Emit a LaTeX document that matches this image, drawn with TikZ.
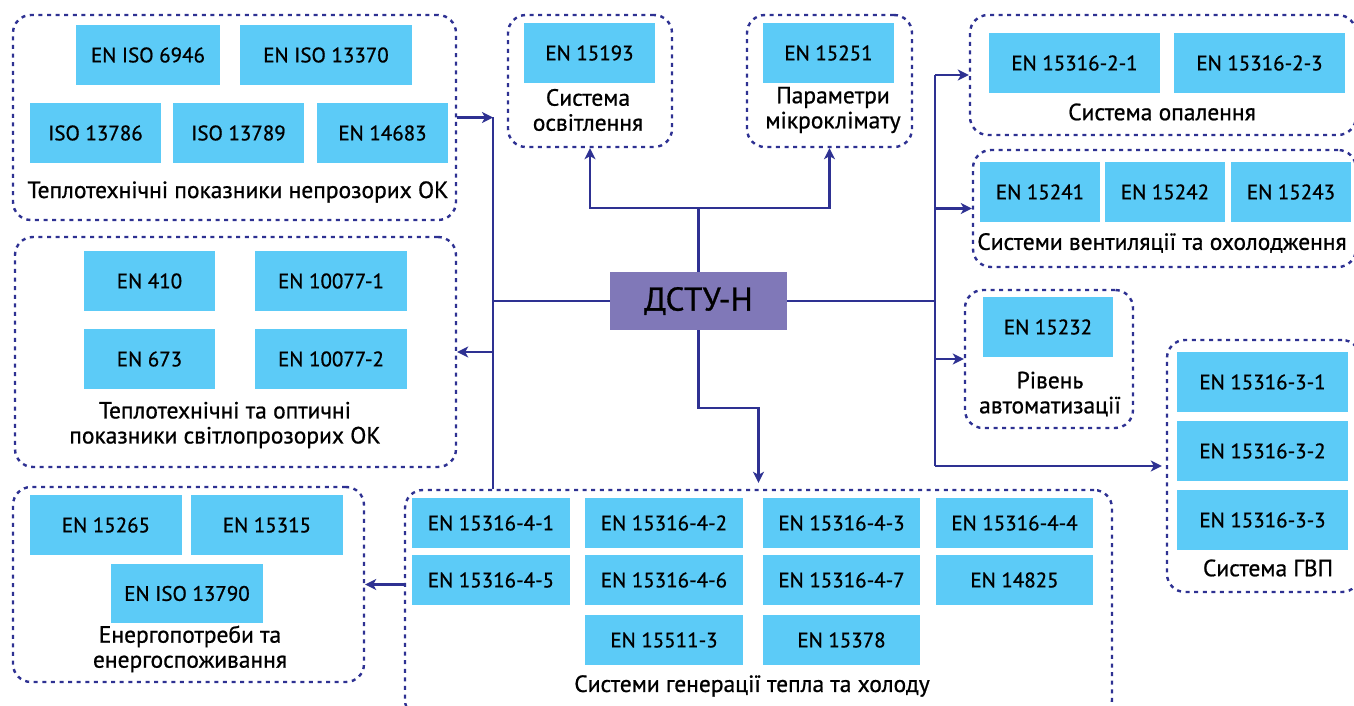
\documentclass[tikz,border=0pt]{standalone}
\usepackage{fontspec}
\setmainfont[FakeBold=0.8]{PT Sans}
\usetikzlibrary{arrows.meta}
\definecolor{cyanbox}{HTML}{5CCBF7}
\definecolor{dstucol}{HTML}{8078B8}
\definecolor{navy}{HTML}{2E3192}
\tikzset{
 stdbox/.style={fill=cyanbox, inner sep=0pt, font=\fontsize{21}{25}\selectfont, text=black},
 grpbox/.style={draw=navy, line width=2.4pt, dash pattern=on 4pt off 4.6pt, rounded corners=18pt, inner sep=0pt},
 lbl/.style={font=\fontsize{23.5}{25}\selectfont, align=center, inner sep=0pt, text=black},
 conn/.style={draw=navy, line width=2.4pt},
 arr/.style={conn, -{Stealth[length=11pt,width=11pt,inset=3pt]}},
}
\newcommand{\stdb}[6]{\node[stdbox, minimum width={#4-#2}, minimum height={#5-#3}] (#1) at ({(#2+#4)/2},{(#3+#5)/2}) {#6};}
\newcommand{\grpb}[5]{\node[grpbox, minimum width={#4-#2}, minimum height={#5-#3}] (#1) at ({(#2+#4)/2},{(#3+#5)/2}) {};}
\begin{document}
\begin{tikzpicture}[x=1pt,y=-1pt]
\useasboundingbox (0,0) rectangle (1354,706);
\fill[white] (0,0) rectangle (1354,706);
% group boxes
\grpb{g1}{13}{15}{456}{220}
\grpb{g2}{15}{237}{456}{467}
\grpb{g3}{13}{487}{364}{682}
\grpb{light}{508}{15}{672}{147}
\grpb{param}{747}{15}{912}{147}
\grpb{heat}{970}{15}{1356}{135}
\grpb{vent}{973}{150}{1356}{267}
\grpb{auto}{965}{290}{1133}{428}
\grpb{dhw}{1167}{340}{1360}{592}
\grpb{gen}{405}{490}{1112}{718}
% standard boxes
\stdb{a1}{76}{25}{220}{85}{EN ISO 6946}
\stdb{a2}{240}{25}{412}{85}{EN ISO 13370}
\stdb{a3}{30}{103}{161}{163}{ISO 13786}
\stdb{a4}{173}{103}{304}{163}{ISO 13789}
\stdb{a5}{317}{103}{448}{163}{EN 14683}
\stdb{b1}{84}{251}{215}{311}{EN 410}
\stdb{b2}{255}{251}{407}{311}{EN 10077-1}
\stdb{b3}{84}{329}{215}{389}{EN 673}
\stdb{b4}{255}{329}{407}{389}{EN 10077-2}
\stdb{c1}{30}{495}{182}{555}{EN 15265}
\stdb{c2}{191}{495}{343}{555}{EN 15315}
\stdb{c3}{111}{564}{263}{623}{EN ISO 13790}
\stdb{d1}{524}{23}{655}{83}{EN 15193}
\stdb{e1}{763}{23}{894}{83}{EN 15251}
\stdb{f1}{989}{33}{1160}{93}{EN 15316-2-1}
\stdb{f2}{1174}{33}{1345}{93}{EN 15316-2-3}
\stdb{h1}{980}{162}{1100}{222}{EN 15241}
\stdb{h2}{1105}{162}{1225}{222}{EN 15242}
\stdb{h3}{1231}{162}{1351}{222}{EN 15243}
\stdb{i1}{983}{297}{1113}{357}{EN 15232}
\stdb{j1}{1177}{352}{1348}{412}{EN 15316-3-1}
\stdb{j2}{1177}{421}{1348}{481}{EN 15316-3-2}
\stdb{j3}{1177}{490}{1348}{550}{EN 15316-3-3}
\stdb{k1}{412}{498}{570}{548}{EN 15316-4-1}
\stdb{k2}{585}{498}{743}{548}{EN 15316-4-2}
\stdb{k3}{763}{498}{920}{548}{EN 15316-4-3}
\stdb{k4}{936}{498}{1093}{548}{EN 15316-4-4}
\stdb{k5}{412}{555}{570}{605}{EN 15316-4-5}
\stdb{k6}{585}{555}{743}{605}{EN 15316-4-6}
\stdb{k7}{763}{555}{920}{605}{EN 15316-4-7}
\stdb{k8}{936}{555}{1093}{605}{EN 14825}
\stdb{k9}{585}{615}{743}{665}{EN 15511-3}
\stdb{k10}{763}{615}{920}{665}{EN 15378}
% central node
\node[fill=dstucol, inner sep=0pt, minimum width=177, minimum height=58, font=\fontsize{33}{36}\selectfont, text=black] (dstu) at (698.5,301) {ДСТУ-Н};
% labels
\node[lbl] (lg1) at (238,192) {Теплотехнічні показники непрозорих ОК};
\node[lbl] (lg2) at (225,425) {Теплотехнічні та оптичні\\показники світлопрозорих ОК};
\node[lbl] (lg3) at (190,649) {Енергопотреби та\\енергоспоживання};
\node[lbl] (llight) at (588,110) {Система\\освітлення};
\node[lbl] (lparam) at (833,110) {Параметри\\мікроклімату};
\node[lbl] (lheat) at (1162,112) {Система опалення};
\node[lbl] (lvent) at (1162,243) {Системи вентиляції та охолодження};
\node[lbl] (lauto) at (1050,394) {Рівень\\автоматизації};
\node[lbl] (ldhw) at (1268,568) {Система ГВП};
\node[lbl] (lgen) at (752,686) {Системи генерації тепла та холоду};
% trunk coordinates
\coordinate (tl) at (493,0);
\coordinate (tr) at (935,0);
% connectors
\draw[arr] (dstu.north) -- ++(0,-64) -| (light.south);
\draw[arr] (dstu.north) -- ++(0,-64) -| (param.south);
\draw[conn] (dstu.west) -- (dstu.west -| tl);
\draw[conn] (g1.east -| tl) -- (gen.north -| tl);
\draw[arr] (g1.east) -- (g1.east -| tl);
\draw[arr] (g2.east -| tl) -- (g2.east);
\draw[arr, shorten >=6pt] (dstu.south) -- ++(0,78) -| (gen.north);
\draw[arr] (gen.west |- g3.east) -- (g3.east);
\draw[conn] (dstu.east) -- (dstu.east -| tr);
\draw[conn] (heat.west -| tr) -- (dhw.west -| tr);
\draw[arr] (heat.west -| tr) -- (heat.west);
\draw[arr] (vent.west -| tr) -- (vent.west);
\draw[arr] (auto.west -| tr) -- (auto.west);
\draw[arr, shorten >=4pt] (dhw.west -| tr) -- (dhw.west);
\end{tikzpicture}
\end{document}
